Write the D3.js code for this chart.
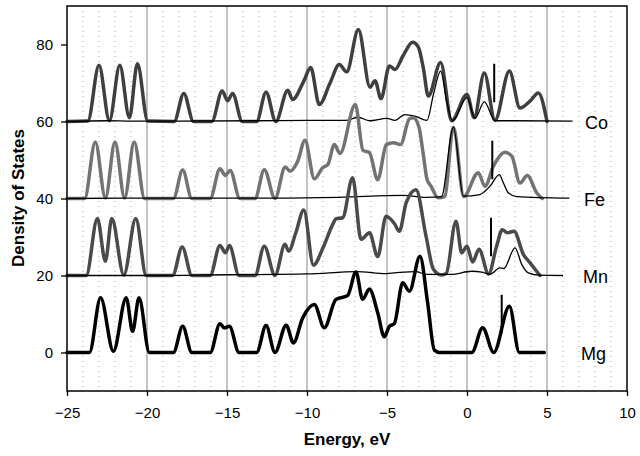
<!DOCTYPE html>
<html><head><meta charset="utf-8">
<script src="https://cdn.jsdelivr.net/npm/d3@7"></script>
<style>body{margin:0;background:#fff;}text{font-family:"Liberation Sans",Arial,sans-serif;}</style>
</head><body><svg id="c" width="640" height="456"></svg>
<script>
// ---- data (energy eV, density of states relative to each curve's baseline) ----
const labels = ["Co","Fe","Mn","Mg"];
const offsets = [60,40,20,0];
const fermi = [1.7,1.58,1.5,2.17];
const markerRange = [5,15];
const xTicks = [-25,-20,-15,-10,-5,0,5,10];
const yTicks = [0,20,40,60,80];

const coTotal = [[-25,0],[-23.7,0.1],[-23.0,14.6],[-22.35,0.2],[-21.7,14.6],[-21.1,1.0],[-20.6,15],[-19.95,0.1],[-18.3,0],[-17.7,7.3],[-17.1,0],[-15.95,0],[-15.3,7.9],[-14.96,5.4],[-14.65,7.3],[-14.05,0],[-13.15,0],[-12.56,7.6],[-11.95,0],[-11.2,8.1],[-10.9,5.7],[-10.2,10.5],[-9.77,14.0],[-9.23,4.4],[-8.56,10.0],[-7.98,14.8],[-7.52,12.9],[-6.79,23.9],[-6.06,8.9],[-5.75,10.6],[-5.375,5.9],[-4.85,14.4],[-4.5,13.5],[-3.98,17.2],[-3.4,20.6],[-3.04,19.3],[-2.73,13.9],[-2.42,6.6],[-1.65,15.3],[-0.96,0.2],[0,7.0],[0.45,1.0],[1.08,12.6],[1.75,0.3],[2.65,13.1],[3.31,3.5],[3.94,5.3],[4.46,7.4],[5.0,0]];
const coMetal = [[-25,0],[-22.5,0.2],[-21,0.1],[-13,0.2],[-10,0.3],[-7.6,0.3],[-6.8,1.1],[-6.1,0.2],[-5.0,0.8],[-4.5,0.3],[-3.9,1.8],[-3.25,1.4],[-2.5,0.3],[-2.1,7.0],[-1.65,13.1],[-1.27,5.3],[-0.9,0.2],[0,6.2],[0.5,0.8],[1.08,5.1],[1.75,0.2],[3,0.2],[6.6,0.1]];

const feTotal = [[-25,0],[-23.9,0],[-23.23,14.7],[-22.6,0.1],[-22.0,14.7],[-21.4,0.1],[-20.8,14.7],[-20.15,0],[-18.35,0],[-17.77,7.4],[-17.2,0],[-16.05,0],[-15.44,7.7],[-15.1,6.0],[-14.8,7.3],[-14.2,0],[-13.25,0],[-12.67,7.5],[-12.0,0],[-11.36,8.2],[-11.06,7.1],[-10.58,9.7],[-10.125,15.1],[-9.54,5.1],[-9.02,8.0],[-8.7,8.8],[-8.29,14.0],[-7.94,11.7],[-6.98,24.4],[-6.5,12.5],[-6.1,11.9],[-5.58,4.9],[-5.04,14.0],[-4.6,14.5],[-4.15,14.0],[-3.6,20.7],[-3.35,21.0],[-3.0,18.5],[-2.75,12],[-2.5,5.0],[-2.25,3.2],[-1.8,0.2],[-1.4,0.5],[-0.85,18.5],[-0.2,0.5],[0.7,6.7],[1.125,3.2],[1.65,8.4],[2.375,12.0],[2.8,11.0],[3.31,4.0],[3.77,6.0],[4.35,1.5],[4.7,0]];
const feMetal = [[-25,0],[-20,0.1],[-12,0.1],[-8,0.3],[-4.0,0.8],[-2.56,0.3],[-1.6,0.4],[-0.85,18.5],[-0.23,0.6],[0.8,1.0],[1.125,1.9],[1.44,3.2],[2.02,6.2],[2.27,4.1],[2.58,1.5],[3.1,0.5],[6.4,0.1]];

const mnTotal = [[-25,0],[-23.8,0],[-23.1,14.8],[-22.6,3.7],[-22.2,14.8],[-21.45,0.1],[-20.7,14.8],[-20.05,0],[-18.4,0],[-17.8,7.4],[-17.2,0],[-16.05,0],[-15.44,7.8],[-15.1,5.9],[-14.85,7.8],[-14.25,0],[-13.25,0],[-12.67,7.6],[-12.0,0],[-11.375,8.1],[-11.15,6.3],[-10.7,11.1],[-10.2,17.0],[-9.6,2.7],[-9.0,7.2],[-8.4,13.2],[-8.19,14.7],[-7.77,15.0],[-7.15,25.4],[-6.625,9.4],[-6.1,11.1],[-5.58,4.9],[-5.06,15.4],[-4.54,13.5],[-4.23,11.5],[-3.8,18.9],[-3.19,22.3],[-2.56,10.2],[-2.1,1.6],[-1.6,0.1],[-1.3,0.5],[-0.69,14.1],[-0.33,5.9],[0,7.6],[0.35,3.5],[0.75,6.8],[1.35,0.4],[1.85,7.6],[2.21,11.9],[2.52,11.1],[2.94,11.5],[3.52,5.5],[3.94,3.3],[4.56,0]];
const mnMetal = [[-25,0],[-20,0],[-15,0.2],[-10,0.4],[-6.9,1.0],[-5.06,0.5],[-4.23,0.8],[-3.2,1.0],[-2.56,0.3],[-1,0.3],[0.3,1.1],[0.92,0.9],[1.44,0.3],[2.06,2.0],[2.3,1.8],[3.0,7.2],[3.42,2.9],[3.83,0.7],[4.5,0.1],[6.0,0]];

const mgTotal = [[-25,0],[-23.6,0],[-22.9,14.2],[-22.1,0.3],[-21.3,14.2],[-20.9,5.5],[-20.5,14.2],[-19.85,0],[-18.35,0],[-17.77,6.8],[-17.2,0],[-16.05,0],[-15.44,7.5],[-15.17,6.4],[-14.85,6.8],[-14.25,0],[-13.15,0],[-12.56,7.0],[-12.0,0],[-11.3,7.1],[-10.85,2.5],[-10.27,9.0],[-9.54,12.5],[-8.92,6.4],[-8.19,13.8],[-7.46,14.8],[-6.94,20.9],[-6.52,13.8],[-6.1,16.5],[-5.58,10.3],[-5.17,4.1],[-4.85,6.8],[-4.54,7.5],[-4.02,18.1],[-3.6,15.9],[-2.94,25.0],[-2.46,12.9],[-2.04,0.6],[-1.7,0],[0.3,0],[0.98,6.4],[1.67,0],[2.65,12.0],[3.27,0],[4.83,0]];

const totals = [coTotal, feTotal, mnTotal, mgTotal];
const metals = [coMetal, feMetal, mnMetal, null];
const totalColors = ["#3f3f3f","#737373","#4a4a4a","#000000"];

// ---- drawing ----
const W=640,H=456, L=67, R=627, T=6, B=391;
const svg = d3.select("#c");
const x = d3.scaleLinear().domain([-25,10]).range([L,R]);
const y = d3.scaleLinear().domain([-10,90]).range([B,T]);

// minor dotted grid
const minor = d3.range(-24,10).filter(v => v%5!==0);
svg.append("g").selectAll("line").data(minor).join("line")
  .attr("x1",d=>x(d)).attr("x2",d=>x(d)).attr("y1",T).attr("y2",B)
  .attr("stroke","#a8a8a8").attr("stroke-width",1).attr("stroke-dasharray","1,4");
// major grid
svg.append("g").selectAll("line").data(xTicks.filter(v=>v>-25&&v<10)).join("line")
  .attr("x1",d=>x(d)).attr("x2",d=>x(d)).attr("y1",T).attr("y2",B)
  .attr("stroke","#9a9a9a").attr("stroke-width",1.2);

const line = d3.line().x(d=>x(d[0])).curve(d3.curveMonotoneX);

labels.forEach((lab,i)=>{
  const off = offsets[i];
  const g = svg.append("g");
  g.append("path").datum(totals[i])
    .attr("d", line.y(d=>y(d[1]+off)))
    .attr("fill","none").attr("stroke",totalColors[i]).attr("stroke-width",3.5)
    .attr("stroke-linejoin","round").attr("stroke-linecap","round");
  if(metals[i]) g.append("path").datum(metals[i])
    .attr("d", line.y(d=>y(d[1]+off)))
    .attr("fill","none").attr("stroke","#000").attr("stroke-width",1.3)
    .attr("stroke-linejoin","round");
  g.append("line").attr("x1",x(fermi[i])).attr("x2",x(fermi[i]))
    .attr("y1",y(off+markerRange[0])).attr("y2",y(off+markerRange[1]))
    .attr("stroke","#000").attr("stroke-width",2);
});

// frame
svg.append("rect").attr("x",L).attr("y",T).attr("width",R-L).attr("height",B-T)
  .attr("fill","none").attr("stroke","#000").attr("stroke-width",1.5);

// axes
const xa = svg.append("g").attr("transform",`translate(0,${B})`)
  .call(d3.axisBottom(x).tickValues(xTicks).tickSize(5).tickSizeOuter(0).tickFormat(d3.format("d")));
const ya = svg.append("g").attr("transform",`translate(${L},0)`)
  .call(d3.axisLeft(y).tickValues(yTicks).tickSize(6).tickSizeOuter(0).tickFormat(d3.format("d")));
[xa,ya].forEach(a=>{a.select(".domain").remove();
  a.selectAll("line").attr("stroke","#000").attr("stroke-width",1.3);
  a.selectAll("text").attr("font-family","Liberation Sans, Arial, sans-serif").attr("font-size",15).attr("fill","#000");});
xa.selectAll("text").attr("dy","1.05em").attr("y",11);
ya.selectAll("text").attr("x",-14);

svg.append("text").attr("x",(L+R)/2).attr("y",445).attr("text-anchor","middle")
  .attr("font-size",17).attr("font-weight","bold").text("Energy, eV");
svg.append("text").attr("transform","translate(24,198) rotate(-90)").attr("text-anchor","middle")
  .attr("font-size",17).attr("font-weight","bold").text("Density of States");

const labelX = [585,584,583,581];
labels.forEach((lab,i)=>{
  svg.append("text").attr("x",labelX[i]).attr("y",y(offsets[i])+7).attr("font-size",18).text(lab);
});
</script></body></html>
